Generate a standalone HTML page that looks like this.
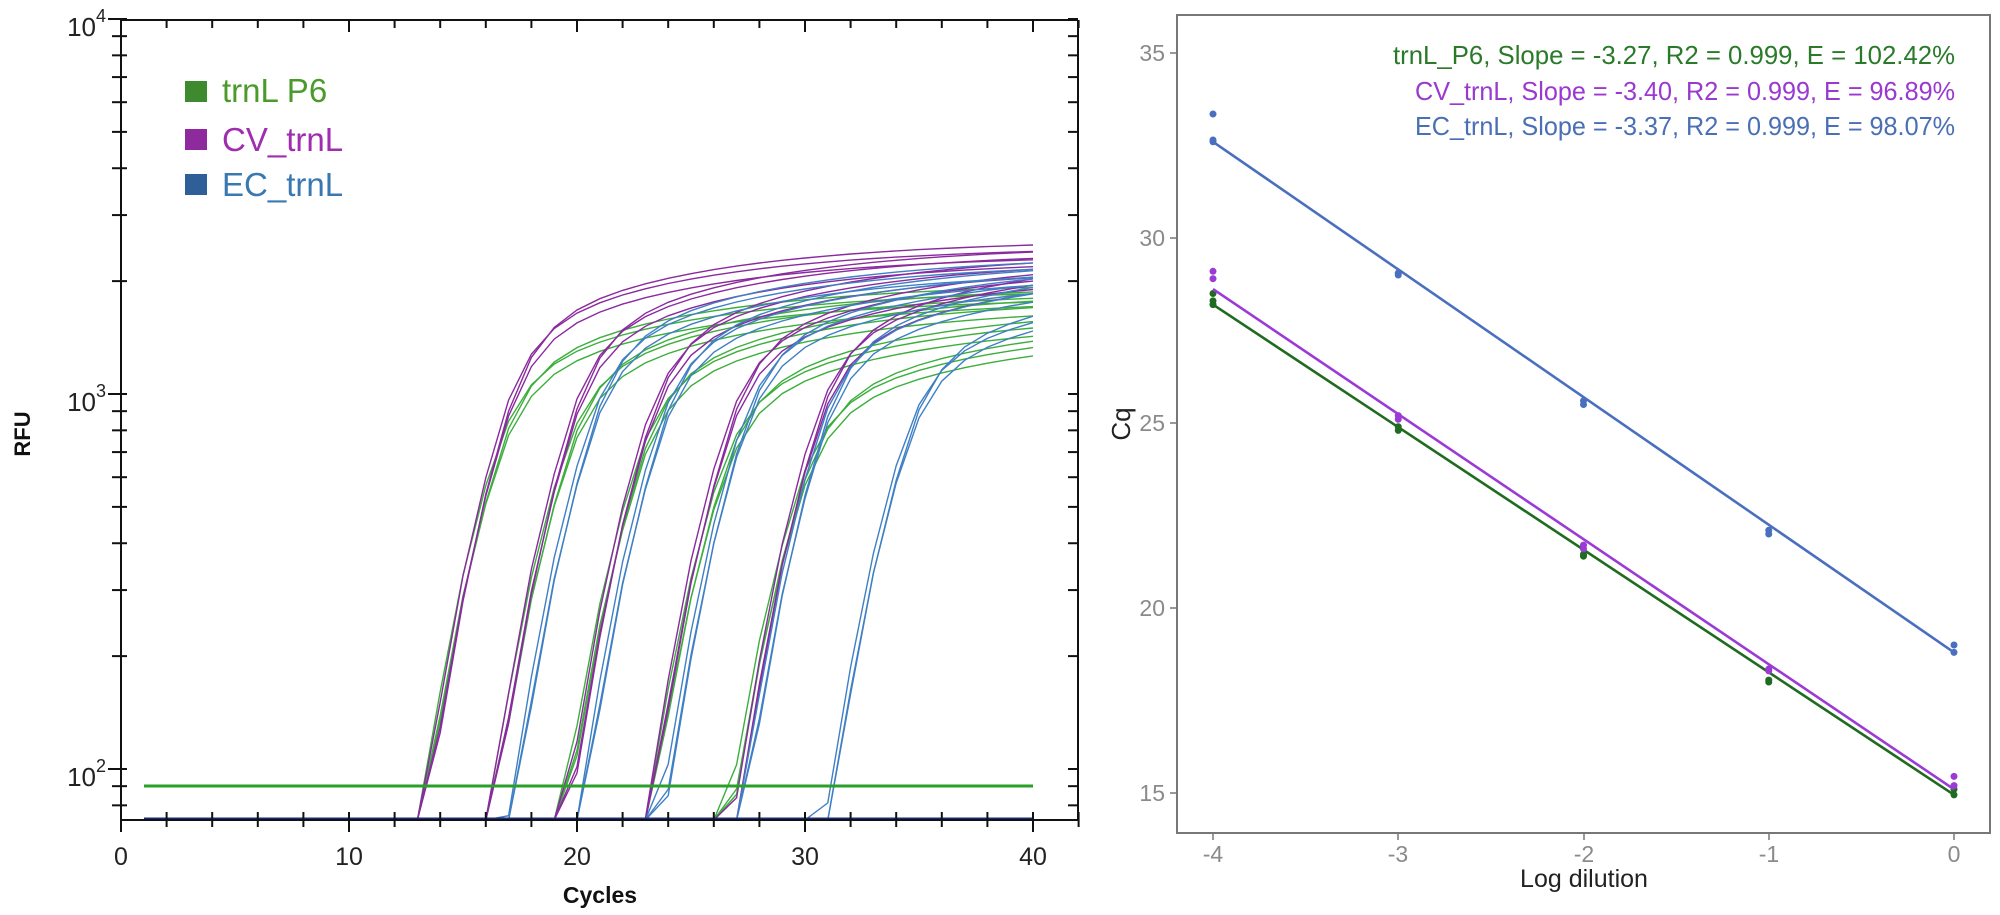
<!DOCTYPE html>
<html><head><meta charset="utf-8">
<style>
html,body{margin:0;padding:0;background:#fff;}
svg{display:block;}
</style></head>
<body>
<svg id="s" width="2000" height="915" xmlns="http://www.w3.org/2000/svg" font-family="Liberation Sans, sans-serif">
<rect width="2000" height="915" fill="#fff"/>
<g id="curves"></g>
<line x1="144" y1="786" x2="1033" y2="786" stroke="#2aa02a" stroke-width="3"/>
<line x1="144" y1="819" x2="1033" y2="819" stroke="#1b2a7a" stroke-width="3"/>
<g id="laxes" stroke="#111" stroke-width="2" fill="none">
  <line x1="121" y1="20" x2="1078" y2="20"/>
  <line x1="121" y1="20" x2="121" y2="820"/>
  <line x1="121" y1="820" x2="1078" y2="820"/>
  <line x1="1078" y1="20" x2="1078" y2="820"/>
</g>
<g font-size="26" fill="#222" text-anchor="end">
  <text x="106" y="36">10<tspan font-size="18" dy="-14">4</tspan></text>
  <text x="106" y="411">10<tspan font-size="18" dy="-14">3</tspan></text>
  <text x="106" y="786">10<tspan font-size="18" dy="-14">2</tspan></text>
</g>
<g font-size="25" fill="#222" text-anchor="middle">
  <text x="121" y="865">0</text>
  <text x="349" y="865">10</text>
  <text x="577" y="865">20</text>
  <text x="805" y="865">30</text>
  <text x="1033" y="865">40</text>
</g>
<text x="600" y="903" font-size="23" font-weight="bold" text-anchor="middle" fill="#111">Cycles</text>
<text transform="translate(30,434) rotate(-90)" font-size="22" font-weight="bold" text-anchor="middle" fill="#111">RFU</text>
<rect x="185" y="81" width="22" height="21" fill="#3d8b2e"/>
<text x="222" y="102" font-size="33" fill="#4b9a2c">trnL P6</text>
<rect x="185" y="129" width="22" height="21" fill="#8e2a9e"/>
<text x="222" y="151" font-size="33" fill="#a02cb0">CV_trnL</text>
<rect x="185" y="174" width="22" height="21" fill="#2f5f99"/>
<text x="222" y="196" font-size="33" fill="#3a78b0">EC_trnL</text>

<rect x="1177" y="15" width="813" height="818" fill="none" stroke="#777" stroke-width="2"/>
<g id="rch"></g>
<g font-size="23" fill="#8a8a8a" text-anchor="end">
  <text x="1165" y="61">35</text>
  <text x="1165" y="246">30</text>
  <text x="1165" y="431">25</text>
  <text x="1165" y="616">20</text>
  <text x="1165" y="801">15</text>
</g>
<g stroke="#777" stroke-width="1.5">
  <line x1="1170" y1="53" x2="1177" y2="53"/><line x1="1170" y1="238" x2="1177" y2="238"/>
  <line x1="1170" y1="423" x2="1177" y2="423"/><line x1="1170" y1="608" x2="1177" y2="608"/>
  <line x1="1170" y1="793" x2="1177" y2="793"/>
  <line x1="1213" y1="833" x2="1213" y2="840"/><line x1="1398" y1="833" x2="1398" y2="840"/>
  <line x1="1584" y1="833" x2="1584" y2="840"/><line x1="1769" y1="833" x2="1769" y2="840"/>
  <line x1="1954" y1="833" x2="1954" y2="840"/>
</g>
<g font-size="23" fill="#8a8a8a" text-anchor="middle">
  <text x="1213" y="862">-4</text><text x="1398" y="862">-3</text><text x="1584" y="862">-2</text>
  <text x="1769" y="862">-1</text><text x="1954" y="862">0</text>
</g>
<text x="1584" y="887" font-size="25" text-anchor="middle" fill="#222">Log dilution</text>
<text transform="translate(1130,424) rotate(-90)" font-size="26" text-anchor="middle" fill="#222">Cq</text>
<g font-size="26" text-anchor="end">
  <text x="1955" y="64" fill="#2a7a2a" textLength="562" lengthAdjust="spacingAndGlyphs">trnL_P6, Slope = -3.27, R2 = 0.999, E = 102.42%</text>
  <text x="1955" y="100" fill="#9a38d0" textLength="540" lengthAdjust="spacingAndGlyphs">CV_trnL, Slope = -3.40, R2 = 0.999, E = 96.89%</text>
  <text x="1955" y="135" fill="#4a6fb5" textLength="540" lengthAdjust="spacingAndGlyphs">EC_trnL, Slope = -3.37, R2 = 0.999, E = 98.07%</text>
</g>
</svg>
<script>
(function(){
var NS="http://www.w3.org/2000/svg";
function el(p,t,a){var e=document.createElementNS(NS,t);for(var k in a)e.setAttribute(k,a[k]);p.appendChild(e);return e;}
var ax=document.getElementById('laxes');
function X(c){return 121+22.8*c;}
function Y(f){return 394-375*(Math.log10(f)-3);}
for(var c=0;c<=42;c+=2){var maj=(c%10==0);el(ax,'line',{x1:X(c),y1:812,x2:X(c),y2:maj?832:827});el(ax,'line',{x1:X(c),y1:20,x2:X(c),y2:maj?32:28});}
var vals=[80,90,100,200,300,400,500,600,700,800,900,1000,2000,3000,4000,5000,6000,7000,8000,9000,10000];
vals.forEach(function(v){var y=Y(v);var maj=(v==100||v==1000||v==10000);
 el(ax,'line',{x1:maj?108:112,y1:y,x2:127,y2:y});el(ax,'line',{x1:1068,y1:y,x2:1078,y2:y});});
var g=document.getElementById('curves');
var groups=[
 {col:'#3cae3c',cq:[13.3,16.3,19.5,23.1,26.6],pl:[1850,1800,1700,1500,1330]},
 {col:'#8a2a9e',cq:[13.7,16.6,19.9,23.4,27.3],pl:[2400,2300,2150,2000,1950]},
 {col:'#3f7fc4',cq:[17.4,20.4,24.0,27.5,31.2],pl:[2150,2050,1950,1850,1550]}];
var offs=[[-0.12,1.0],[0.0,0.95],[0.15,1.04]];
function F(c,m,fm){var L=1/(1+Math.exp(-(c-m)/1.05));var S=1-0.5*Math.exp(-Math.max(0,c-m)/9);return fm*L*S;}
groups.forEach(function(gr){gr.cq.forEach(function(cq,i){offs.forEach(function(o){
 var m=cq+o[0]+2.5; var tgt=gr.pl[i]*o[1]; var fm=tgt/F(40,m,1);
 var pts=[];
 for(var c=1;c<=40;c++){var f=F(c,m,fm);if(f<73.1){if(F(c+1,m,fm)>=73.1){pts.push(X(c).toFixed(1)+','+820);}continue;}
  pts.push(X(c).toFixed(1)+','+Y(f).toFixed(1));}
 el(g,'polyline',{points:pts.join(' '),fill:'none',stroke:gr.col,'stroke-width':1.4});
});});});
var r=document.getElementById('rch');
function RX(d){return 1954+185.25*d;}
function RY(v){return 53+37*(35-v);}
var lines=[{col:'#1f6b1f',a:28.2,b:14.95,p:[[28.5,28.3,28.2],[24.9,24.8],[21.4,21.45],[18.0,18.05],[15.1,14.95]]},
 {col:'#9c3ad6',a:28.62,b:15.1,p:[[29.1,28.9],[25.2,25.1],[21.7,21.6],[18.35,18.3],[15.45,15.2]]},
 {col:'#4a6fbf',a:32.6,b:18.8,p:[[33.35,32.65,32.6],[29.05,29.0],[25.6,25.5],[22.1,22.0],[19.0,18.8]]}];
lines.forEach(function(L){
 el(r,'line',{x1:RX(-4),y1:RY(L.a),x2:RX(0),y2:RY(L.b),stroke:L.col,'stroke-width':2.6});
 L.p.forEach(function(arr,i){arr.forEach(function(v){el(r,'circle',{cx:RX(i-4),cy:RY(v),r:3.5,fill:L.col});});});
});
})();
</script>
</body></html>
